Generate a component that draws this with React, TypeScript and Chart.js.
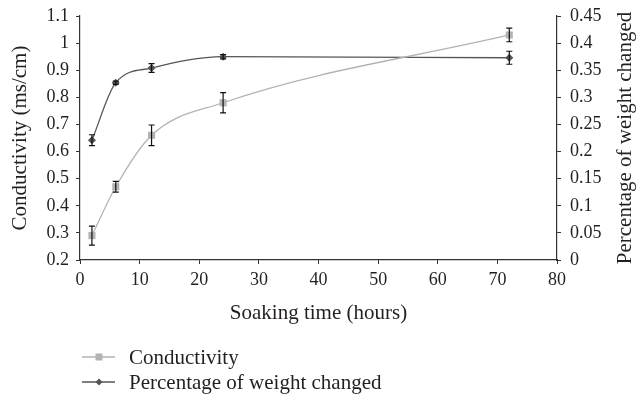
import React, { useEffect, useRef } from "react";
import { Chart, registerables } from "chart.js";

Chart.register(...registerables);

const hours = [2, 6, 12, 24, 72];
const conductivity = [0.29, 0.47, 0.66, 0.78, 1.03];
const conductivityErr = [0.035, 0.02, 0.038, 0.037, 0.025];
const weightChanged = [0.221, 0.327, 0.354, 0.375, 0.373];
const weightErr = [0.01, 0.003, 0.008, 0.004, 0.012];
const seriesLabels = ["Conductivity", "Percentage of weight changed"];
const xTitle = "Soaking time (hours)";
const yTitle = "Conductivity (ms/cm)";
const y1Title = "Percentage of weight changed";

const FONT = "'Liberation Serif', 'Times New Roman', serif";
const TEXT = "#231f20";
const AXIS = "#333333";
const LIGHT = "#b3b3b3";
const DARK = "#555555";
const TICK_SIZE = 18;
const TITLE_SIZE = 21;

const errs = [conductivityErr, weightErr];

const errorBarPlugin = {
  id: "errorBars",
  afterDatasetsDraw(chart: any) {
    const ctx = chart.ctx;
    chart.data.datasets.forEach((ds: any, i: number) => {
      const meta = chart.getDatasetMeta(i);
      const yScale = chart.scales[ds.yAxisID];
      const e = errs[i];
      ctx.save();
      ctx.strokeStyle = "#111";
      ctx.lineWidth = 1.2;
      meta.data.forEach((pt: any, j: number) => {
        const v = ds.data[j].y;
        const top = yScale.getPixelForValue(v + e[j]);
        const bot = yScale.getPixelForValue(v - e[j]);
        const x = pt.x;
        ctx.beginPath();
        ctx.moveTo(x, top);
        ctx.lineTo(x, bot);
        ctx.moveTo(x - 3, top);
        ctx.lineTo(x + 3, top);
        ctx.moveTo(x - 3, bot);
        ctx.lineTo(x + 3, bot);
        ctx.stroke();
      });
      ctx.restore();
    });
  },
};

const rightTitlePlugin = {
  id: "rightTitle",
  afterDraw(chart: any) {
    const ctx = chart.ctx;
    const { top, bottom } = chart.chartArea;
    ctx.save();
    ctx.translate(625, (top + bottom) / 2);
    ctx.rotate(-Math.PI / 2);
    ctx.font = `${TITLE_SIZE}px ${FONT}`;
    ctx.fillStyle = TEXT;
    ctx.textAlign = "center";
    ctx.textBaseline = "middle";
    ctx.fillText(y1Title, 0, 0);
    ctx.restore();
  },
};

function Marker({ kind, color }: { kind: string; color: string }) {
  return (
    <svg width="33" height="12" style={{ display: "block" }}>
      <line x1="0" y1="6" x2="33" y2="6" stroke={color} strokeWidth="1.3" />
      {kind === "square" ? (
        <rect x="13.5" y="2.5" width="7" height="7" fill={color} />
      ) : (
        <polygon points="17,2.5 20.5,6 17,9.5 13.5,6" fill={color} />
      )}
    </svg>
  );
}

export default function App() {
  const ref = useRef<HTMLCanvasElement>(null);
  useEffect(() => {
    const tickFont = { family: FONT, size: TICK_SIZE };
    const titleFont = { family: FONT, size: TITLE_SIZE };
    const fmt = (v: any) => String(Math.round(v * 100) / 100);
    const chart = new Chart(ref.current!, {
      type: "line",
      data: {
        datasets: [
          {
            label: seriesLabels[0],
            data: hours.map((h, i) => ({ x: h, y: conductivity[i] })),
            yAxisID: "y",
            borderColor: LIGHT,
            backgroundColor: LIGHT,
            borderWidth: 1.3,
            pointStyle: "rect",
            pointRadius: 5,
            pointBorderWidth: 0,
            cubicInterpolationMode: "monotone",
          },
          {
            label: seriesLabels[1],
            data: hours.map((h, i) => ({ x: h, y: weightChanged[i] })),
            yAxisID: "y1",
            borderColor: DARK,
            backgroundColor: DARK,
            borderWidth: 1.3,
            pointStyle: "rectRot",
            pointRadius: 4,
            pointBorderWidth: 0,
            cubicInterpolationMode: "monotone",
          },
        ],
      },
      options: {
        animation: false,
        responsive: false,
        layout: { padding: { top: 16, bottom: 70, left: 0, right: 0 } },
        plugins: { legend: { display: false }, tooltip: { enabled: false } },
        scales: {
          x: {
            type: "linear",
            min: 0,
            max: 80,
            ticks: { stepSize: 10, color: TEXT, font: tickFont, padding: 5, maxRotation: 0 },
            grid: { display: true, drawOnChartArea: false, drawTicks: true, tickLength: 4, color: AXIS },
            border: { display: true, color: AXIS, width: 1.2 },
            title: { display: true, text: xTitle, color: TEXT, font: titleFont, padding: { top: 6, bottom: 0 } },
            afterFit: (s: any) => { s.height = 66; s.paddingLeft = 0; s.paddingRight = 0; },
          },
          y: {
            type: "linear",
            position: "left",
            min: 0.2,
            max: 1.1,
            ticks: { stepSize: 0.1, color: TEXT, font: tickFont, padding: 7, callback: fmt },
            grid: { display: true, drawOnChartArea: false, drawTicks: true, tickLength: 4, color: AXIS },
            border: { display: true, color: AXIS, width: 1.2 },
            title: { display: true, text: yTitle, color: TEXT, font: titleFont, padding: { top: 8, bottom: 0 } },
            afterFit: (s: any) => { s.width = 80; s.paddingTop = 0; s.paddingBottom = 0; },
          },
          y1: {
            type: "linear",
            position: "right",
            min: 0,
            max: 0.45,
            ticks: { stepSize: 0.05, color: TEXT, font: tickFont, padding: 9, callback: fmt },
            grid: { display: true, drawOnChartArea: false, drawTicks: true, tickLength: 4, color: AXIS },
            border: { display: true, color: AXIS, width: 1.2 },
            afterFit: (s: any) => { s.width = 79; s.paddingTop = 0; s.paddingBottom = 0; },
          },
        },
      } as any,
      plugins: [errorBarPlugin, rightTitlePlugin],
    });
    return () => chart.destroy();
  }, []);

  const legendItems = [
    { label: seriesLabels[0], kind: "square", color: LIGHT, top: 347 },
    { label: seriesLabels[1], kind: "diamond", color: DARK, top: 372 },
  ];

  return (
    <div style={{ position: "absolute", left: 0, top: 0, width: 636, height: 396, background: "#fff" }}>
      <canvas ref={ref} width={636} height={396} style={{ display: "block" }} />
      {legendItems.map((it) => (
        <div
          key={it.label}
          style={{
            position: "absolute",
            left: 82,
            top: it.top,
            height: 20,
            display: "flex",
            alignItems: "center",
            fontFamily: FONT,
            fontSize: TITLE_SIZE,
            color: TEXT,
            whiteSpace: "nowrap",
          }}
        >
          <Marker kind={it.kind} color={it.color} />
          <span style={{ marginLeft: 14 }}>{it.label}</span>
        </div>
      ))}
    </div>
  );
}
